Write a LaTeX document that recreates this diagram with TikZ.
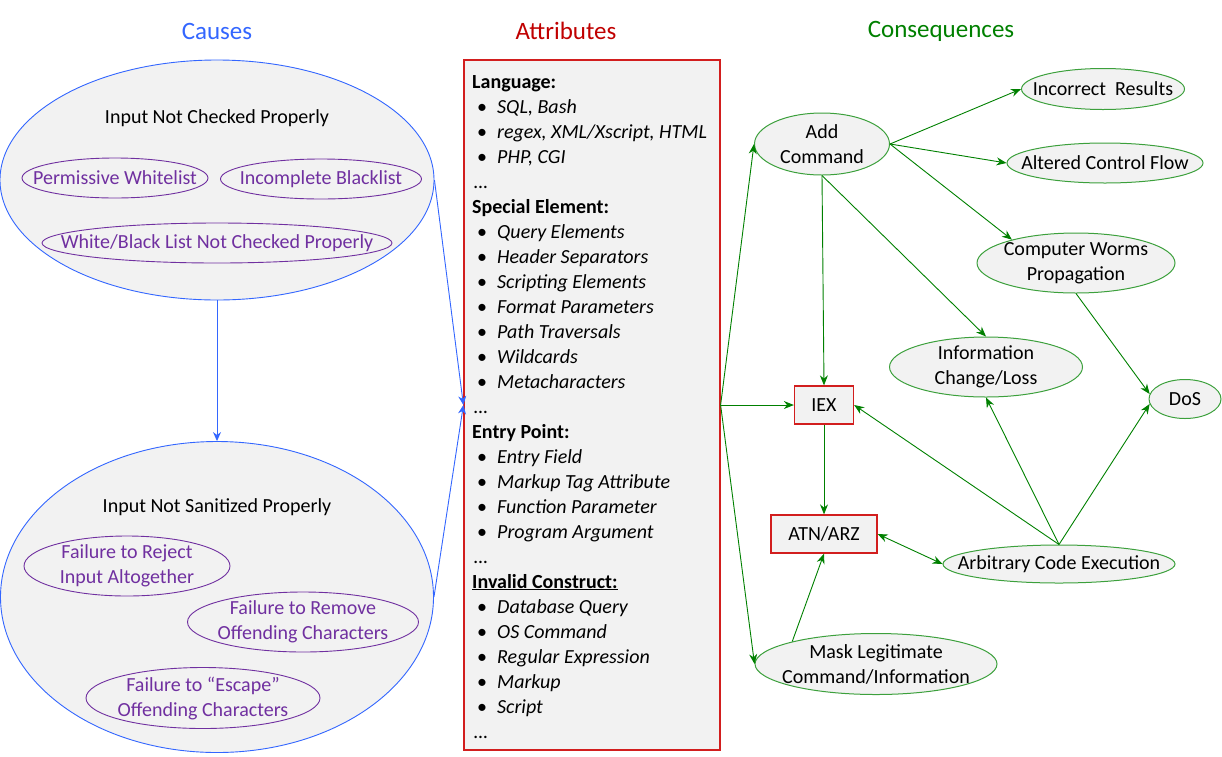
\documentclass[tikz,border=0pt]{standalone}
\usepackage{fontspec}
\setmainfont{Carlito}
\usetikzlibrary{shapes.geometric,arrows.meta}
\definecolor{cblue}{RGB}{51,102,255}
\definecolor{cred}{RGB}{192,0,0}
\definecolor{cboxred}{RGB}{210,30,30}
\definecolor{cgreen}{RGB}{0,128,0}
\definecolor{cgreenl}{RGB}{60,160,60}
\definecolor{cpurple}{RGB}{112,48,160}
\definecolor{cfill}{RGB}{242,242,242}
\tikzset{
  every node/.style={font=\fontsize{20}{25}\selectfont},
  title/.style={font=\fontsize{25}{30}\selectfont},
  bigell/.style={ellipse, draw=cblue, fill=cfill, line width=0.9pt, inner sep=0pt},
  subell/.style={ellipse, draw=cpurple, line width=0.9pt, inner sep=0pt},
  subtxt/.style={text=cpurple, align=center, inner sep=0pt, font=\fontsize{20}{25}\selectfont},
  conell/.style={ellipse, draw=cgreenl, fill=cfill, line width=1pt, inner sep=0pt},
  contxt/.style={align=center, inner sep=0pt, font=\fontsize{20}{25}\selectfont},
  conbox/.style={rectangle, draw=cboxred, fill=cfill, line width=1.3pt, inner sep=0pt, font=\fontsize{20}{25}\selectfont},
  hdr/.style={anchor=base west, inner sep=0pt, font=\fontsize{20}{24}\selectfont\bfseries},
  itm/.style={anchor=base west, inner sep=0pt, font=\fontsize{20}{24}\selectfont\itshape},
  bul/.style={anchor=base west, inner sep=0pt, font=\fontsize{20}{24}\selectfont},
  barr/.style={draw=cblue, line width=0.9pt, -{Stealth[length=9pt,width=8pt]}},
  garr/.style={draw=cgreen, line width=0.9pt, -{Stealth[length=10pt,width=8pt]}},
  gdarr/.style={draw=cgreen, line width=0.9pt, {Stealth[length=10pt,width=8pt]}-{Stealth[length=10pt,width=8pt]}},
}
\begin{document}
\begin{tikzpicture}[x=1pt,y=-1pt]
\useasboundingbox (0,0) rectangle (1222,756);
% titles
\node[title, text=cblue] (tc) at (217,31) {Causes};
\node[title, text=cred] (ta) at (566,31) {Attributes};
\node[title, text=cgreen] (tq) at (941,31) {Consequences};
% causes
\node[bigell, minimum width=434pt, minimum height=240pt] (e1) at (217,180) {};
\node (e1t) at (217,118) {Input Not Checked Properly};
\node[subell, minimum width=186pt, minimum height=40pt] (pw) at (115,178) {};
\node[subtxt] (pwt) at (pw) {Permissive Whitelist};
\node[subell, minimum width=201pt, minimum height=40pt] (ib) at (321,179) {};
\node[subtxt] (ibt) at (ib) {Incomplete Blacklist};
\node[subell, minimum width=350pt, minimum height=40pt] (wb) at (217,243) {};
\node[subtxt] (wbt) at (wb) {White/Black List Not Checked Properly};
\node[bigell, minimum width=433pt, minimum height=311pt] (e2) at (217,597) {};
\node (e2t) at (217,507) {Input Not Sanitized Properly};
\node[subell, minimum width=206pt, minimum height=60pt] (fr) at (127,566) {};
\node[subtxt] (frt) at (fr) {Failure to Reject\\Input Altogether};
\node[subell, minimum width=231pt, minimum height=60pt] (fm) at (303,622) {};
\node[subtxt] (fmt) at (fm) {Failure to Remove\\Offending Characters};
\node[subell, minimum width=234pt, minimum height=61pt] (fe) at (203,698) {};
\node[subtxt] (fet) at (fe) {Failure to “Escape”\\Offending Characters};
% attributes box
\node[rectangle, draw=cboxred, fill=cfill, line width=1.2pt, minimum width=256pt, minimum height=690pt, inner sep=0pt] (attr) at (592,405) {};
\def\hx{472}\def\bx{477}\def\tx{497}\def\dx{474}
\node[hdr] (l1) at (\hx,88) {Language:};
\node[bul] (b2) at (\bx,113) {•}; \node[itm] (l2) at (\tx,113) {SQL, Bash};
\node[bul] (b3) at (\bx,138) {•}; \node[itm] (l3) at (\tx,138) {regex, XML/Xscript, HTML};
\node[bul] (b4) at (\bx,163) {•}; \node[itm] (l4) at (\tx,163) {PHP, CGI};
\node[itm] (l5) at (\dx,188) {…};
\node[hdr] (l6) at (\hx,213) {Special Element:};
\node[bul] (b7) at (\bx,238) {•}; \node[itm] (l7) at (\tx,238) {Query Elements};
\node[bul] (b8) at (\bx,263) {•}; \node[itm] (l8) at (\tx,263) {Header Separators};
\node[bul] (b9) at (\bx,288) {•}; \node[itm] (l9) at (\tx,288) {Scripting Elements};
\node[bul] (b10) at (\bx,313) {•}; \node[itm] (l10) at (\tx,313) {Format Parameters};
\node[bul] (b11) at (\bx,338) {•}; \node[itm] (l11) at (\tx,338) {Path Traversals};
\node[bul] (b12) at (\bx,363) {•}; \node[itm] (l12) at (\tx,363) {Wildcards};
\node[bul] (b13) at (\bx,388) {•}; \node[itm] (l13) at (\tx,388) {Metacharacters};
\node[itm] (l14) at (\dx,413) {…};
\node[hdr] (l15) at (\hx,438) {Entry Point:};
\node[bul] (b16) at (\bx,463) {•}; \node[itm] (l16) at (\tx,463) {Entry Field};
\node[bul] (b17) at (\bx,488) {•}; \node[itm] (l17) at (\tx,488) {Markup Tag Attribute};
\node[bul] (b18) at (\bx,513) {•}; \node[itm] (l18) at (\tx,513) {Function Parameter};
\node[bul] (b19) at (\bx,538) {•}; \node[itm] (l19) at (\tx,538) {Program Argument};
\node[itm] (l20) at (\dx,563) {…};
\node[hdr] (l21) at (\hx,588) {\underline{Invalid Construct:}};
\node[bul] (b22) at (\bx,613) {•}; \node[itm] (l22) at (\tx,613) {Database Query};
\node[bul] (b23) at (\bx,638) {•}; \node[itm] (l23) at (\tx,638) {OS Command};
\node[bul] (b24) at (\bx,663) {•}; \node[itm] (l24) at (\tx,663) {Regular Expression};
\node[bul] (b25) at (\bx,688) {•}; \node[itm] (l25) at (\tx,688) {Markup};
\node[bul] (b26) at (\bx,713) {•}; \node[itm] (l26) at (\tx,713) {Script};
\node[itm] (l27) at (\dx,738) {…};
% consequences
\node[conell, minimum width=135pt, minimum height=62pt] (add) at (822,144) {};
\node[contxt] (addt) at (add) {Add\\Command};
\node[conell, minimum width=163pt, minimum height=41pt] (inc) at (1103,89) {};
\node[contxt] (inct) at (inc) {Incorrect~ Results};
\node[conell, minimum width=196pt, minimum height=40pt] (alt) at (1105,163) {};
\node[contxt] (altt) at (alt) {Altered Control Flow};
\node[conell, minimum width=198pt, minimum height=60pt] (worm) at (1076,263) {};
\node[contxt] (wormt) at (worm) {Computer Worms\\Propagation};
\node[conell, minimum width=193pt, minimum height=60pt] (info) at (986,367) {};
\node[contxt] (infot) at (info) {Information\\Change/Loss};
\node[conell, minimum width=72pt, minimum height=39pt] (dos) at (1185,399) {};
\node[contxt] (dost) at (dos) {DoS};
\node[conbox, minimum width=59pt, minimum height=38pt] (iex) at (824,405) {IEX};
\node[conbox, minimum width=106pt, minimum height=38pt] (atn) at (824,534) {ATN/ARZ};
\node[conell, minimum width=232pt, minimum height=38pt] (ace) at (1059,564) {};
\node[contxt] (acet) at (ace) {Arbitrary Code Execution};
\node[conell, minimum width=242pt, minimum height=61pt] (mask) at (876,664) {};
\node[contxt] (maskt) at (mask) {Mask Legitimate\\Command/Information};
% blue arrows
\draw[barr] (e1.south) -- (e2.north);
\draw[barr] (e1.east) -- (attr.west);
\draw[barr] (e2.east) -- (attr.west);
% green arrows
\draw[garr] (attr.east) -- (add.west);
\draw[garr] (attr.east) -- (iex.west);
\draw[garr] (attr.east) -- (mask.west);
\draw[garr] (add.east) -- (inc.west);
\draw[garr] (add.east) -- (alt.west);
\draw[garr] (add.east) -- (worm.160);
\draw[garr] (add.south) -- (info.north);
\draw[garr] (add.south) -- (iex.north);
\draw[garr] (worm.south) -- (dos.172);
\draw[garr] (iex.south) -- (atn.north);
\draw[garr] (ace.north) -- (iex.east);
\draw[garr] (ace.north) -- (info.south);
\draw[garr] (ace.north) -- (dos.188);
\draw[gdarr] (atn.east) -- (ace.west);
\draw[garr] (mask.165) -- (atn.south);
\end{tikzpicture}
\end{document}
